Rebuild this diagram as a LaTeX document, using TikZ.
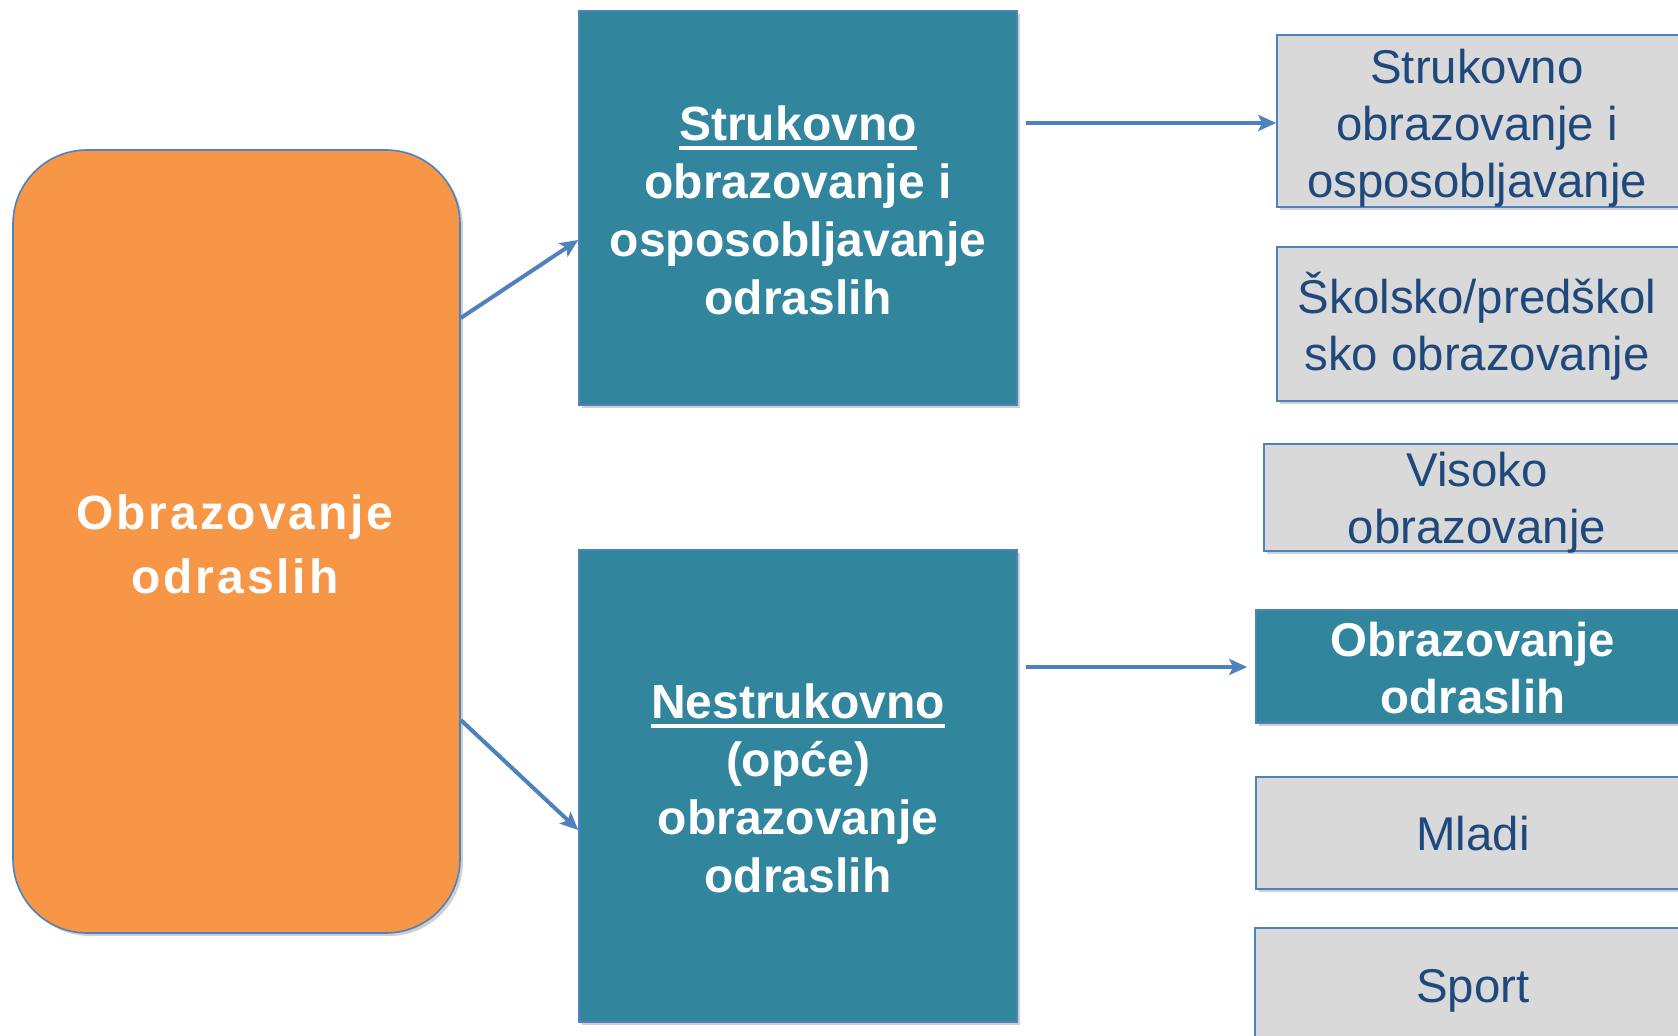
\documentclass[tikz,border=0pt]{standalone}
\usepackage{fontspec}
\setmainfont{Liberation Sans}
\newfontfamily\spacedfont[LetterSpace=6]{Liberation Sans}
\usetikzlibrary{arrows.meta,fit,shadows}
\definecolor{orangefill}{HTML}{F79646}
\definecolor{tealfill}{HTML}{31859C}
\definecolor{edgeblue}{HTML}{4F81BD}
\definecolor{grayfill}{HTML}{D9D9D9}
\definecolor{navytext}{HTML}{1F497D}
\newcommand\ulword[1]{\setbox0\hbox{#1}\rlap{\rule[-5pt]{\wd0}{2pt}}\box0}
\begin{document}
\begin{tikzpicture}[x=0.5pt,y=-0.5pt,
  shadowed/.style={drop shadow={shadow xshift=1.5pt,shadow yshift=-1.5pt,opacity=0.3,fill=black!60}},
  orgbox/.style={draw=edgeblue, line width=0.8pt, fill=orangefill, rounded corners=37pt, inner sep=0pt, shadowed},
  orgtext/.style={text=white, align=center, inner sep=0pt, font=\spacedfont\bfseries\fontsize{24}{32}\selectfont},
  tealbox/.style={draw=edgeblue, line width=0.8pt, fill=tealfill, inner sep=0pt, shadowed},
  tealtext/.style={text=white, align=center, inner sep=0pt, font=\bfseries\fontsize{24}{29}\selectfont},
  graybox/.style={draw=edgeblue, line width=0.8pt, fill=grayfill, inner sep=0pt, shadowed},
  graytext/.style={text=navytext, align=center, inner sep=0pt, font=\fontsize{23.7}{28.5}\selectfont},
  whitetext/.style={text=white, align=center, inner sep=0pt, font=\bfseries\fontsize{23.7}{28.5}\selectfont},
  conn/.style={draw=edgeblue, line width=2pt, -{Stealth[length=9pt,width=8pt,inset=2pt]}}
]
\useasboundingbox[fill=white] (0,0) rectangle (1678,1036);

\node[orgbox, fit={(13,150)(460,933)}] (org) {};
\node[orgtext] (orgt) at (235,544) {Obrazovanje\\odraslih};

\node[tealbox, fit={(579,11)(1017,405)}] (t1) {};
\node[tealtext] (t1t) at (798,210) {\ulword{Strukovno}\\obrazovanje i\\osposobljavanje\\odraslih};
\node[tealbox, fit={(579,550)(1017,1022)}] (t2) {};
\node[tealtext] (t2t) at (798,788) {\ulword{Nestrukovno}\\(opće)\\obrazovanje\\odraslih};

\node[graybox, fit={(1277,35)(1700,207)}] (g1) {};
\node[graytext] (g1t) at (1477,128) {Strukovno\\obrazovanje i\\osposobljavanje};
\node[graybox, fit={(1277,247)(1700,401)}] (g2) {};
\node[graytext] (g2t) at (1477,326) {Školsko/predškol\\sko obrazovanje};
\node[graybox, fit={(1264,444)(1700,551)}] (g3) {};
\node[graytext] (g3t) at (1477,503) {Visoko\\obrazovanje};
\node[tealbox, fit={(1256,610)(1700,723)}] (g4) {};
\node[whitetext] (g4t) at (1473,668) {Obrazovanje\\odraslih};
\node[graybox, fit={(1256,777)(1700,889)}] (g5) {};
\node[graytext] (g5t) at (1473,834) {Mladi};
\node[graybox, fit={(1255,928)(1700,1070)}] (g6) {};
\node[graytext] (g6t) at (1473,991) {Sport};

\draw[conn] ([yshift=111.75pt]org.east) -- ([yshift=-16pt]t1.west);
\draw[conn] ([yshift=-89.25pt]org.east) -- ([yshift=-22pt]t2.west);
\draw[conn] ([xshift=4pt,yshift=42.5pt]t1.east) coordinate (a1) -- (a1 -| g1.west);
\draw[conn, shorten >=4pt] ([xshift=4pt,yshift=59.5pt]t2.east) coordinate (a2) -- (a2 -| g4.west);
\end{tikzpicture}
\end{document}
